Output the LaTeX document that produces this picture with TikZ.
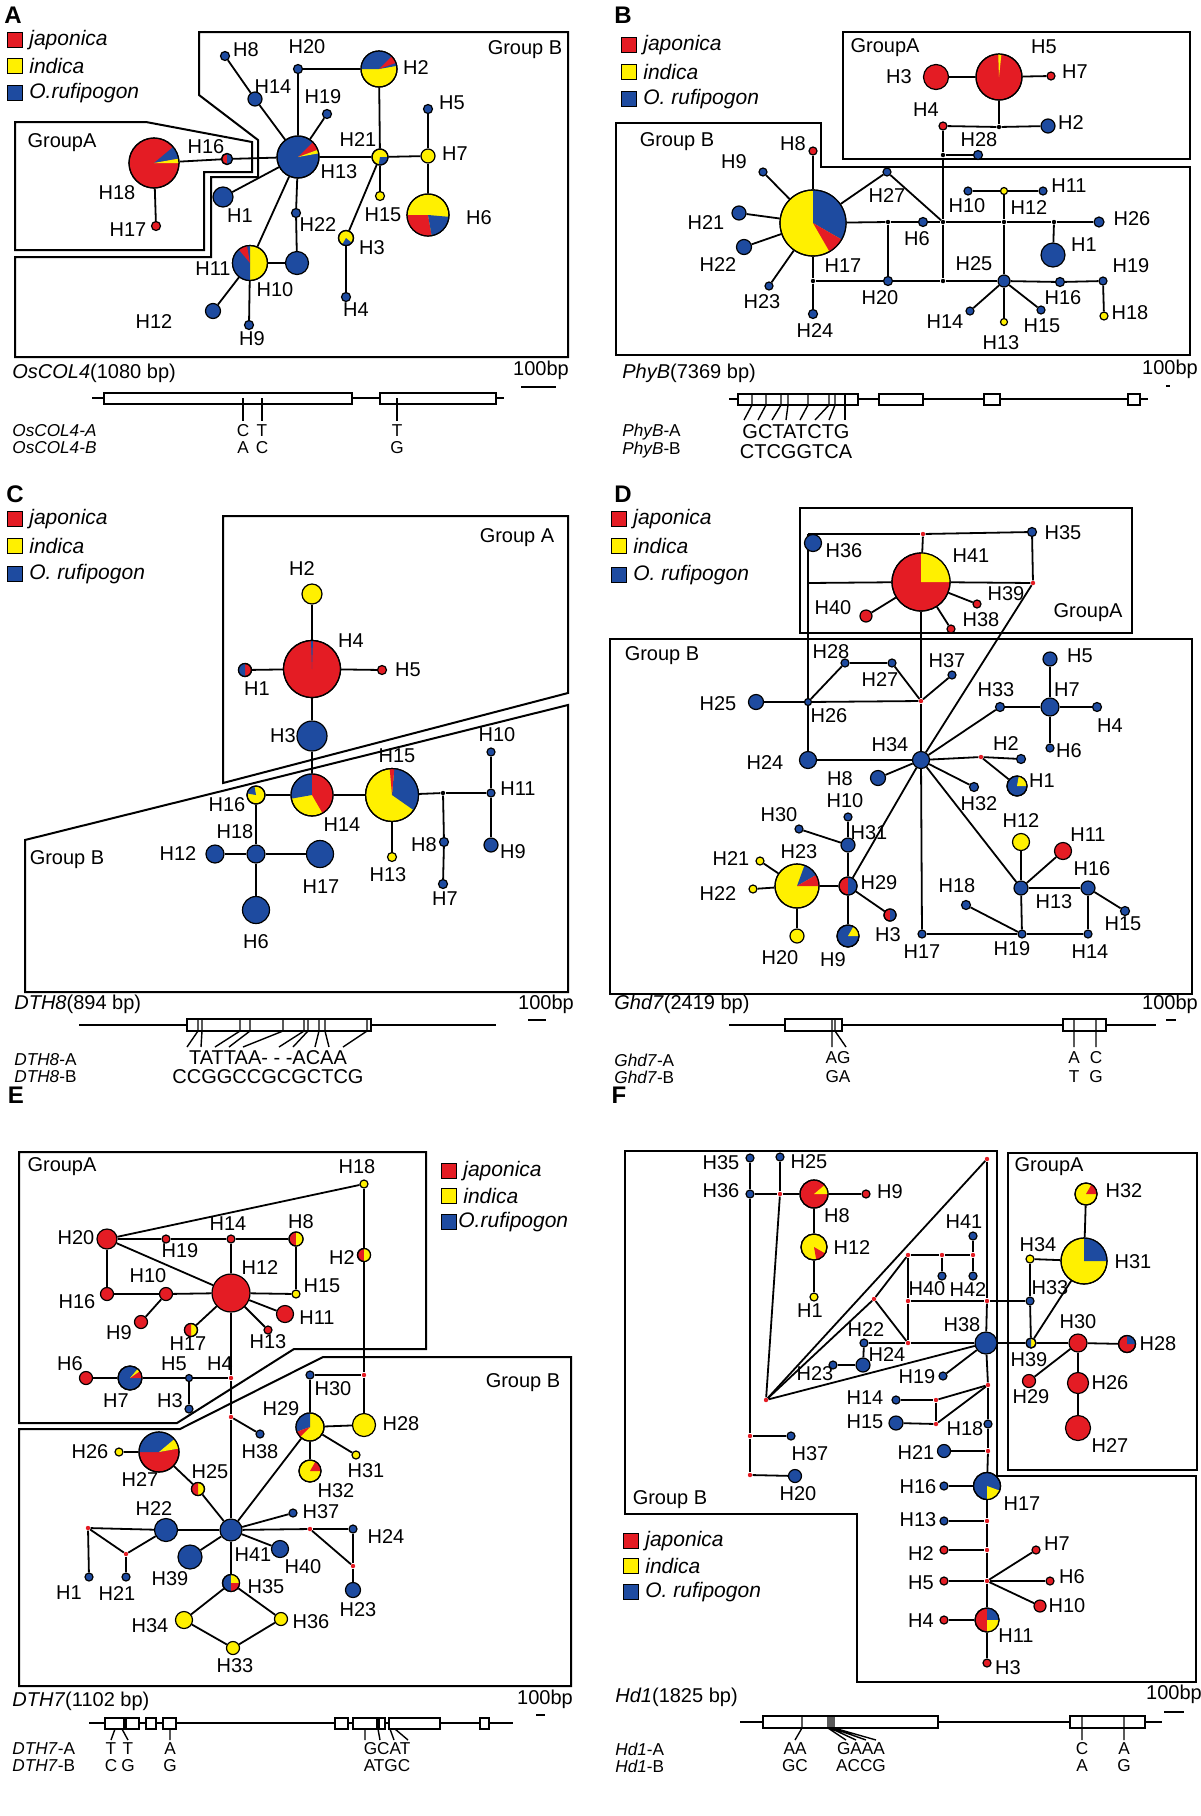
\documentclass[tikz,border=0pt]{standalone}
\usepackage{fontspec}
\setmainfont{Liberation Sans}
\pgfdeclarelayer{back}\pgfdeclarelayer{bg}\pgfsetlayers{back,bg,main}
\definecolor{jr}{RGB}{228,28,36}
\definecolor{jy}{RGB}{255,240,0}
\definecolor{jb}{RGB}{30,75,160}
\tikzset{hap/.style={circle,draw,line width=0.6pt,inner sep=0pt},
 vxs/.style={circle,fill=jr,inner sep=0pt,minimum size=2.2pt},
 jd/.style={circle,fill=black,inner sep=0pt,minimum size=2.2pt},
 lab/.style={font=\fontsize{10}{11}\selectfont,inner sep=0pt},
 gl/.style={font=\fontsize{8.6}{9}\selectfont,inner sep=0pt},
 grp/.style={line width=1pt},
 ed/.style={line width=0.9pt},
 gb/.style={line width=0.8pt,fill=white},
 pl/.style={font=\bfseries\fontsize{12}{13}\selectfont,inner sep=0pt}}
\newcount\lbc
\newcommand\lb[3]{\global\advance\lbc by 1\relax\node[lab] (lbl\the\lbc) at (#1,#2) {#3};}
\newcommand\lw[3]{\global\advance\lbc by 1\relax\node[lab,anchor=west] (lbl\the\lbc) at (#1,#2) {#3};}
\newcommand\gw[3]{\global\advance\lbc by 1\relax\node[gl,anchor=west] (lbl\the\lbc) at (#1,#2) {#3};}
\newcommand\gc[3]{\global\advance\lbc by 1\relax\node[gl] (lbl\the\lbc) at (#1,#2) {#3};}
\newcommand\hn[5]{\node[hap,minimum size=#4*0.5pt,fill=#5] (#1) at (#2,#3) {};}
\newcommand\hp[6]{\hn{#1}{#2}{#3}{#4}{#5}\foreach \a/\b/\c in {#6}{\fill[\c] (#1.center) -- +(\a:#4*0.25pt) arc[start angle=\a,end angle=\b,radius=#4*0.25pt] -- cycle;}\draw[line width=0.6pt] (#1.center) circle[radius=#4*0.25pt];}
\newcommand\vx[3]{\node[vxs] (#1) at (#2,#3) {};}
\newcommand\jn[3]{\node[jd] (#1) at (#2,#3) {};}
\newcommand\legi[5]{\node[draw,fill=#4,minimum size=7.5pt,inner sep=0pt,line width=0.6pt] (#1) at (#2,#3) {};\node[lab,anchor=west,font=\itshape\fontsize{10.5}{12}\selectfont] (#1t) at (#2+14,#3) {#5};}
\newcommand\edges[1]{\begin{pgfonlayer}{bg}\foreach \u/\v in {#1}{\draw[ed] (\u) -- (\v);}\end{pgfonlayer}}
\begin{document}
\begin{tikzpicture}[x=0.5pt,y=-0.5pt]
\begin{pgfonlayer}{back}\fill[white] (0,0) rectangle (1200,1816);\end{pgfonlayer}
\useasboundingbox (0,0) rectangle (1200,1816);
%%%%%%%%%%%%%%%% A
\node[pl] (pA) at (13,15) {A};
\legi{aL1}{15}{40}{jr}{japonica}\legi{aL2}{15}{66}{jy}{indica}\legi{aL3}{15}{93}{jb}{O.rufipogon}
\draw[grp] (199,32)--(568,32)--(568,357)--(15,357)--(15,257)--(211,257)--(211,177)--(258,177)--(258,140)--(199,95)--cycle;
\draw[grp] (15,122)--(146,122)--(252,142)--(252,172)--(204,172)--(204,250)--(15,250)--cycle;
\lb{525}{50}{Group B}\lb{62}{143}{GroupA}
\hp{aH13}{298}{157}{42}{jb}{20/45/jr,10/20/jy}
\hp{aH18}{154}{163}{50}{jr}{10/40/jb,0/10/jy}
\hp{aH16}{227}{159}{11}{jr}{-90/90/jb}
\hn{aH17}{156}{226}{9}{jr}
\hn{aH1}{223}{197}{20}{jb}
\hn{aH8}{225}{56}{9}{jb}
\hn{aH14}{255}{99}{14}{jb}
\hn{aH20}{298}{69}{9}{jb}
\hp{aH2}{379}{69}{36}{jy}{10/180/jb,20/45/jr}
\hn{aH19}{327}{114}{9}{jb}
\hp{aH21}{380}{157}{16}{jy}{-100/0/jb}
\hn{aH7}{428}{156}{14}{jy}
\hn{aH5}{428}{109}{9}{jb}
\hn{aH15}{380}{196}{9}{jy}
\hp{aH6}{428}{215}{42}{jy}{180/280/jr,280/355/jb}
\hn{aH22}{296}{213}{9}{jb}
\hp{aH3}{346}{238}{15}{jy}{240/320/jb}
\hn{aH4}{346}{297}{9}{jb}
\hp{aH11}{250}{263}{35}{jy}{90/270/jb,100/130/jr}
\hn{aH10}{297}{263}{23}{jb}
\hn{aH12}{213}{311}{15}{jb}
\hn{aH9}{249}{325}{9}{jb}
\edges{aH8/aH14,aH14/aH13,aH13/aH20,aH20/aH2,aH2/aH21,aH13/aH19,aH13/aH21,aH21/aH7,aH7/aH5,aH7/aH6,aH21/aH15,aH21/aH3,aH3/aH4,aH13/aH22,aH22/aH10,aH13/aH11,aH11/aH10,aH11/aH12,aH11/aH9,aH13/aH16,aH16/aH18,aH18/aH17,aH13/aH1}
\lb{246}{50}{H8}\lb{307}{47}{H20}\lb{416}{68}{H2}\lb{273}{87}{H14}\lb{323}{97}{H19}\lb{452}{103}{H5}\lb{358}{140}{H21}\lb{455}{154}{H7}\lb{206}{147}{H16}\lb{339}{172}{H13}\lb{117}{193}{H18}\lb{240}{216}{H1}\lb{383}{215}{H15}\lb{479}{218}{H6}\lb{318}{225}{H22}\lb{128}{230}{H17}\lb{372}{248}{H3}\lb{213}{269}{H11}\lb{275}{290}{H10}\lb{356}{310}{H4}\lb{154}{322}{H12}\lb{252}{339}{H9}
\lw{12}{373}{\textit{OsCOL4}(1080 bp)}\lb{541}{370}{100bp}
\draw[line width=1.2pt] (521,387)--(556,387);
\draw[ed] (92,398)--(504,398);
\draw[gb] (104,393) rectangle (352,404);\draw[gb] (380,393) rectangle (496,404);
\draw[ed] (243,398)--(243,421) (262,398)--(262,421) (397,398)--(397,421);
\gw{12}{431}{\textit{OsCOL4-A}}\gw{12}{448}{\textit{OsCOL4-B}}
\gc{243}{431}{C}\gc{262}{431}{T}\gc{397}{431}{T}\gc{243}{448}{A}\gc{262}{448}{C}\gc{397}{448}{G}
%%%%%%%%%%%%%%%% B
\node[pl] (pB) at (623,15) {B};
\legi{bL1}{629}{45}{jr}{japonica}\legi{bL2}{629}{72}{jy}{indica}\legi{bL3}{629}{99}{jb}{O. rufipogon}
\draw[grp] (843,32) rectangle (1190,159);
\draw[grp] (616,123)--(821,123)--(821,167)--(1190,167)--(1190,355)--(616,355)--cycle;
\lb{885}{48}{GroupA}\lb{677}{142}{Group B}
\hp{bH5}{999}{77}{46}{jr}{84/92/jy}
\hn{bH3}{936}{77}{25}{jr}
\hn{bH7}{1051}{76}{8}{jr}
\jn{bj28}{999}{127}
\hn{bH2}{1048}{126}{14}{jb}
\hn{bH4}{943}{126}{8}{jr}
\jn{bj1}{943}{155}
\hn{bH28}{978}{155}{9}{jb}
\hp{bH17}{813}{223}{66}{jy}{-30/90/jb,-60/-30/jr}
\hn{bH8}{813}{151}{8}{jr}
\hn{bH9}{763}{172}{8}{jb}
\hn{bH21}{739}{213}{14}{jb}
\hn{bH22}{744}{247}{15}{jb}
\hn{bH23}{769}{286}{8}{jb}
\hn{bH24}{813}{314}{9}{jb}
\jn{bjB1}{813}{281}\jn{bjB2}{888}{222}\jn{bjB3}{943}{222}\jn{bjB4}{943}{281}\jn{bjB5}{1004}{222}\jn{bjB6}{1054}{222}
\hn{bH20}{888}{281}{9}{jb}
\hn{bH6}{923}{222}{9}{jb}
\hn{bH27}{887}{172}{8}{jb}
\hn{bH10}{968}{191}{8}{jb}\hn{bH12}{1004}{191}{7}{jy}\hn{bH11}{1043}{191}{8}{jb}
\hn{bH26}{1099}{222}{10}{jb}
\hn{bH1}{1053}{255}{24}{jb}
\hn{bH25}{1004}{281}{12}{jb}
\hn{bH16}{1060}{282}{9}{jb}\hn{bH19}{1103}{281}{8}{jb}
\hn{bH18}{1104}{316}{8}{jy}
\hn{bH14}{970}{311}{8}{jb}\hn{bH13}{1004}{322}{7}{jy}\hn{bH15}{1041}{310}{8}{jb}
\edges{bH3/bH5,bH5/bH7,bH5/bj28,bH4/bj28,bj28/bH2,bH4/bj1,bj1/bjB3,bjB3/bjB4,bj1/bH28,bH17/bH8,bH17/bH9,bH17/bH21,bH17/bH22,bH17/bH23,bH17/bjB1,bjB1/bH24,bH17/bH27,bH27/bjB3,bH17/bjB2,bjB2/bH6,bH6/bjB3,bjB2/bH20,bjB1/bH20,bH20/bjB4,bjB4/bH25,bH25/bH16,bH16/bH19,bjB3/bjB5,bjB5/bjB6,bjB6/bH26,bjB6/bH1,bH10/bH12,bH12/bH11,bH12/bjB5,bjB5/bH25,bH25/bH14,bH25/bH13,bH25/bH15,bH19/bH18}
\lb{1044}{47}{H5}\lb{899}{77}{H3}\lb{1075}{72}{H7}\lb{926}{110}{H4}\lb{1071}{123}{H2}\lb{979}{140}{H28}\lb{793}{144}{H8}\lb{734}{162}{H9}\lb{887}{196}{H27}\lb{967}{206}{H10}\lb{1029}{208}{H12}\lb{1069}{186}{H11}\lb{1132}{219}{H26}\lb{706}{223}{H21}\lb{917}{239}{H6}\lb{1084}{245}{H1}\lb{718}{265}{H22}\lb{843}{266}{H17}\lb{974}{264}{H25}\lb{1131}{266}{H19}\lb{762}{302}{H23}\lb{880}{298}{H20}\lb{1063}{298}{H16}\lb{945}{322}{H14}\lb{1130}{313}{H18}\lb{1042}{326}{H15}\lb{1001}{343}{H13}\lb{815}{331}{H24}
\lw{622}{373}{\textit{PhyB}(7369 bp)}\lb{1170}{369}{100bp}
\draw[line width=1.2pt] (1166,386)--(1170,386);
\draw[ed] (729,399)--(1148,399);
\draw[gb] (738,394) rectangle (858,405);\draw[gb] (879,394) rectangle (923,405);\draw[gb] (984,394) rectangle (1000,405);\draw[gb] (1128,394) rectangle (1140,405);
\foreach \p/\q in {752/744,766/758,781/772,788/786,808/800,829/815,835/829,845/845}{\draw[line width=0.7pt] (\p,394)--(\p,405)--(\q,420);}
\gw{622}{432}{\textit{PhyB}-A}\gw{622}{450}{\textit{PhyB}-B}
\node[gl,font=\fontsize{10}{11}\selectfont] (bga) at (796,432) {GCTATCTG};\node[gl,font=\fontsize{10}{11}\selectfont] (bgb) at (796,452) {CTCGGTCA};
%%%%%%%%%%%%%%%% C
\node[pl] (pC) at (15,494) {C};
\legi{cL1}{15}{519}{jr}{japonica}\legi{cL2}{15}{546}{jy}{indica}\legi{cL3}{15}{574}{jb}{O. rufipogon}
\draw[grp] (223,516)--(568,516)--(568,693)--(223,783)--cycle;
\draw[grp] (25,840)--(568,705)--(568,992)--(25,992)--cycle;
\lb{517}{538}{Group A}\lb{67}{860}{Group B}
\hn{cH2}{312}{594}{20}{jy}
\hp{cH4}{312}{669}{57}{jr}{88/92/jb}
\hp{cH1}{245}{670}{13}{jr}{90/270/jb}
\hn{cH5}{382}{670}{9}{jr}
\hn{cH3}{312}{736}{30}{jb}
\hp{cH14}{312}{795}{42}{jy}{90/190/jb,-60/90/jr}
\hp{cH15}{392}{795}{53}{jy}{-35/85/jb,85/95/jr}
\hp{cH16}{256}{795}{18}{jy}{100/170/jb}
\hn{cH18}{256}{854}{18}{jb}
\hn{cH12}{215}{854}{18}{jb}
\hn{cH17}{320}{854}{27}{jb}
\hn{cH6}{256}{910}{27}{jb}
\hn{cH13}{392}{857}{9}{jy}
\jn{cjC}{443}{793}
\hn{cH8}{444}{842}{9}{jb}\hn{cH7}{443}{884}{9}{jb}
\hn{cH11}{491}{793}{8}{jb}\hn{cH10}{491}{752}{8}{jb}\hn{cH9}{491}{845}{14}{jb}
\edges{cH2/cH4,cH1/cH4,cH4/cH5,cH4/cH3,cH3/cH14,cH16/cH14,cH14/cH15,cH15/cjC,cjC/cH11,cjC/cH8,cH8/cH7,cH10/cH11,cH11/cH9,cH15/cH13,cH16/cH18,cH18/cH6,cH12/cH18,cH18/cH17}
\lb{302}{569}{H2}\lb{351}{641}{H4}\lb{257}{689}{H1}\lb{408}{670}{H5}\lb{283}{736}{H3}\lb{397}{756}{H15}\lb{497}{735}{H10}\lb{518}{789}{H11}\lb{227}{805}{H16}\lb{342}{825}{H14}\lb{235}{832}{H18}\lb{178}{854}{H12}\lb{424}{845}{H8}\lb{513}{852}{H9}\lb{321}{887}{H17}\lb{388}{875}{H13}\lb{445}{899}{H7}\lb{256}{942}{H6}
\lw{14}{1004}{\textit{DTH8}(894 bp)}\lb{546}{1004}{100bp}
\draw[line width=1.2pt] (528,1020)--(546,1020);
\draw[ed] (79,1025)--(496,1025);
\draw[gb] (187,1019) rectangle (371,1031);
\foreach \p/\q in {198/187,202/201,240/215,250/229,283/243,304/279,308/293,319/315,325/329,367/343}{\draw[line width=0.7pt] (\p,1019)--(\p,1031)--(\q,1047);}
\gw{14}{1060}{\textit{DTH8}-A}\gw{14}{1077}{\textit{DTH8}-B}
\node[gl,font=\fontsize{10}{11}\selectfont] (cga) at (268,1058) {TATTAA- - -ACAA};\node[gl,font=\fontsize{10}{11}\selectfont] (cgb) at (268,1077) {CCGGCCGCGCTCG};
%%%%%%%%%%%%%%%% D
\node[pl] (pD) at (623,494) {D};
\legi{dL1}{619}{519}{jr}{japonica}\legi{dL2}{619}{546}{jy}{indica}\legi{dL3}{619}{575}{jb}{O. rufipogon}
\draw[grp] (800,508) rectangle (1132,633);
\draw[grp] (610,639) rectangle (1192,994);
\lb{1088}{613}{GroupA}\lb{662}{656}{Group B}
\coordinate (dTL) at (808,534);\coordinate (dML) at (808,583);
\vx{dJ1}{923}{534}\vx{dJ2}{1033}{583}\vx{dJ3}{921}{701}\vx{dJ4}{981}{757}
\hn{dH36}{813}{543}{17}{jb}
\hn{dH35}{1032}{532}{9}{jb}
\hp{dH41}{921}{582}{58}{jr}{0/90/jy}
\hn{dH40}{866}{616}{12}{jr}
\hn{dH39}{977}{604}{8}{jr}
\hn{dH38}{951}{629}{8}{jr}
\hn{dH28}{845}{663}{8}{jb}\hn{dH27}{892}{663}{8}{jb}\hn{dH37}{952}{675}{8}{jb}
\hn{dH26}{808}{702}{7}{jb}\hn{dH25}{756}{702}{15}{jb}
\hn{dH24}{808}{760}{17}{jb}\hn{dH34}{921}{760}{17}{jb}\hn{dH8}{878}{778}{15}{jb}
\hn{dH33}{1000}{707}{9}{jb}\hn{dH7}{1050}{707}{18}{jb}\hn{dH5}{1050}{659}{14}{jb}\hn{dH4}{1097}{707}{9}{jb}\hn{dH6}{1050}{748}{8}{jb}
\hn{dH2}{1021}{759}{9}{jb}
\hp{dH1}{1017}{786}{20}{jb}{0/80/jy}
\hn{dH32}{974}{787}{9}{jb}
\hn{dH12}{1021}{842}{17}{jy}\hn{dH11}{1063}{851}{17}{jr}
\hn{dH13}{1021}{888}{14}{jb}\hn{dH16}{1088}{888}{14}{jb}\hn{dH15}{1125}{911}{9}{jb}
\hn{dH18}{966}{905}{9}{jb}\hn{dH19}{1022}{934}{8}{jb}\hn{dH14}{1088}{934}{8}{jb}\hn{dH17}{922}{934}{8}{jb}
\hn{dH10}{848}{817}{8}{jb}\hn{dH30}{799}{829}{8}{jb}\hn{dH31}{848}{845}{14}{jb}
\hp{dH29}{848}{886}{18}{jr}{-90/90/jb}
\hp{dH23}{797}{886}{44}{jy}{30/70/jb,0/30/jr}
\hn{dH21}{760}{861}{8}{jy}\hn{dH22}{753}{889}{8}{jy}\hn{dH20}{797}{936}{14}{jy}
\hp{dH9}{848}{936}{22}{jb}{0/60/jy}
\hp{dH3}{890}{915}{12}{jr}{-90/90/jb}
\edges{dTL/dJ1,dJ1/dH35,dH35/dJ2,dML/dH41,dH41/dJ2,dTL/dML,dML/dH26,dH26/dH24,dJ1/dH41,dH41/dJ3,dJ3/dH34,dH41/dH40,dH41/dH39,dH41/dH38,dJ2/dH34,dH26/dH25,dH26/dH28,dH28/dH27,dH27/dJ3,dJ3/dH37,dH26/dJ3,dH24/dH34,dH34/dH33,dH33/dH7,dH7/dH5,dH7/dH4,dH7/dH6,dH34/dJ4,dJ4/dH2,dJ4/dH1,dH34/dH8,dH34/dH32,dH34/dH13,dH34/dH29,dH34/dH17,dH17/dH19,dH19/dH14,dH19/dH18,dH19/dH13,dH13/dH12,dH13/dH11,dH13/dH16,dH16/dH14,dH16/dH15,dH29/dH31,dH31/dH10,dH31/dH30,dH23/dH29,dH29/dH9,dH29/dH3,dH23/dH21,dH23/dH22,dH23/dH20}
\lb{844}{551}{H36}\lb{1063}{533}{H35}\lb{971}{556}{H41}\lb{1006}{594}{H39}\lb{833}{608}{H40}\lb{981}{620}{H38}\lb{831}{652}{H28}\lb{880}{680}{H27}\lb{947}{661}{H37}\lb{996}{690}{H33}\lb{1080}{656}{H5}\lb{1067}{690}{H7}\lb{718}{704}{H25}\lb{829}{716}{H26}\lb{1110}{726}{H4}\lb{890}{745}{H34}\lb{1006}{744}{H2}\lb{1069}{751}{H6}\lb{765}{763}{H24}\lb{840}{779}{H8}\lb{1042}{781}{H1}\lb{979}{804}{H32}\lb{845}{801}{H10}\lb{779}{815}{H30}\lb{1021}{821}{H12}\lb{1088}{835}{H11}\lb{869}{833}{H31}\lb{731}{859}{H21}\lb{799}{852}{H23}\lb{1092}{869}{H16}\lb{879}{883}{H29}\lb{718}{894}{H22}\lb{957}{886}{H18}\lb{1054}{902}{H13}\lb{1123}{924}{H15}\lb{888}{935}{H3}\lb{780}{958}{H20}\lb{833}{960}{H9}\lb{922}{952}{H17}\lb{1012}{949}{H19}\lb{1090}{952}{H14}
\lw{614}{1004}{\textit{Ghd7}(2419 bp)}\lb{1170}{1004}{100bp}
\draw[line width=1.2pt] (1166,1020)--(1176,1020);
\draw[ed] (729,1025)--(1156,1025);
\draw[gb] (785,1019) rectangle (842,1031);\draw[gb] (1063,1019) rectangle (1106,1031);
\draw[line width=0.7pt] (832,1019)--(832,1047) (835,1019)--(835,1031)--(846,1047) (1074,1019)--(1074,1047) (1096,1019)--(1096,1047);
\gw{614}{1060}{\textit{Ghd7}-A}\gw{614}{1077}{\textit{Ghd7}-B}
\gc{838}{1058}{AG}\gc{838}{1077}{GA}\gc{1074}{1058}{A}\gc{1074}{1077}{T}\gc{1096}{1058}{C}\gc{1096}{1077}{G}
%%%%%%%%%%%%%%%% E
\node[pl] (pE) at (16,1095) {E};
\legi{eL1}{449}{1171}{jr}{japonica}\legi{eL2}{449}{1196}{jy}{indica}
\node[draw,fill=jb,minimum size=7.5pt,inner sep=0pt,line width=0.6pt] (eL3) at (449,1222) {};\node[lab,anchor=west,font=\itshape\fontsize{10.5}{12}\selectfont] (eL3t) at (458,1222) {O.rufipogon};
\draw[grp] (19,1152)--(426,1152)--(426,1349)--(294,1349)--(177,1423)--(19,1423)--cycle;
\draw[grp] (19,1429)--(180,1429)--(323,1357)--(571,1357)--(571,1686)--(19,1686)--cycle;
\lb{62}{1167}{GroupA}\lb{523}{1383}{Group B}
\hn{eH18}{364}{1184}{8}{jy}
\hn{eH20}{107}{1239}{20}{jr}\hn{eH19}{166}{1239}{8}{jr}\hn{eH14}{231}{1239}{8}{jr}
\hp{eH8}{296}{1239}{14}{jr}{-90/90/jy}
\hp{eH2}{364}{1255}{13}{jr}{-90/90/jy}
\hn{eH12}{231}{1293}{38}{jr}
\hn{eH15}{296}{1294}{8}{jy}
\hn{eH10}{166}{1294}{13}{jr}\hn{eH16}{107}{1294}{13}{jr}\hn{eH9}{141}{1322}{13}{jr}
\hp{eH17}{191}{1330}{13}{jy}{90/270/jr}
\hn{eH13}{268}{1330}{8}{jr}\hn{eH11}{285}{1314}{17}{jr}
\hn{eH6}{86}{1378}{13}{jr}
\hp{eH7}{130}{1378}{24}{jb}{0/35/jr,35/50/jy}
\hn{eH5}{189}{1378}{7}{jb}\vx{eH4}{231}{1378}\hn{eH3}{189}{1409}{8}{jb}
\vx{eJ1}{231}{1417}\hn{eH38}{260}{1434}{8}{jb}
\vx{eJ2}{364}{1375}\hn{eH30}{310}{1375}{8}{jb}
\hp{eH29}{310}{1427}{28}{jy}{90/200/jb,200/225/jr}
\hn{eH28}{364}{1425}{23}{jy}\hn{eH31}{356}{1455}{8}{jy}
\hp{eH32}{310}{1471}{22}{jy}{0/60/jr}
\hn{eH26}{119}{1452}{8}{jy}
\hp{eH27}{159}{1452}{40}{jr}{10/180/jb,10/40/jy}
\hp{eH25}{198}{1489}{13}{jy}{90/270/jr}
\hn{eH22}{166}{1530}{23}{jb}\hn{eH41}{231}{1530}{22}{jb}\hn{eH37}{293}{1513}{8}{jb}
\vx{eJ3}{310}{1529}\hn{eH24}{353}{1529}{8}{jb}\vx{eJ4}{353}{1566}\hn{eH23}{353}{1590}{15}{jb}
\hn{eH40}{280}{1549}{17}{jb}\hn{eH39}{190}{1557}{24}{jb}
\hp{eH35}{231}{1583}{17}{jb}{0/90/jy,-90/0/jr}
\hn{eH34}{184}{1620}{17}{jy}\hn{eH36}{281}{1619}{13}{jy}\hn{eH33}{233}{1648}{13}{jy}
\vx{eJ5}{88}{1528}\vx{eJ6}{126}{1554}
\hn{eH1}{89}{1577}{8}{jb}\hn{eH21}{126}{1577}{8}{jb}
\edges{eH18/eH20,eH18/eH2,eH2/eJ2,eJ2/eH28,eH20/eH19,eH19/eH14,eH14/eH8,eH20/eH12,eH20/eH16,eH16/eH10,eH10/eH12,eH10/eH9,eH14/eH12,eH8/eH15,eH15/eH12,eH12/eH11,eH12/eH13,eH12/eH17,eH12/eH4,eH4/eJ1,eJ1/eH41,eH6/eH7,eH7/eH5,eH5/eH4,eH5/eH3,eJ1/eH38,eH30/eJ2,eH30/eH29,eH29/eH28,eH29/eH31,eH29/eH32,eH29/eH41,eH26/eH27,eH27/eH25,eH25/eH41,eH41/eH22,eH22/eJ5,eJ5/eH1,eJ5/eJ6,eJ6/eH22,eJ6/eH21,eH41/eH39,eH41/eH40,eH41/eH37,eH41/eJ3,eJ3/eH24,eJ3/eJ4,eH24/eJ4,eJ4/eH23,eH41/eH35,eH35/eH34,eH35/eH36,eH34/eH33,eH36/eH33}
\lb{357}{1167}{H18}\lb{76}{1238}{H20}\lb{228}{1224}{H14}\lb{301}{1222}{H8}\lb{180}{1251}{H19}\lb{342}{1258}{H2}\lb{260}{1267}{H12}\lb{148}{1276}{H10}\lb{322}{1286}{H15}\lb{77}{1302}{H16}\lb{317}{1318}{H11}\lb{119}{1333}{H9}\lb{188}{1344}{H17}\lb{268}{1342}{H13}\lb{70}{1364}{H6}\lb{174}{1364}{H5}\lb{220}{1364}{H4}\lb{116}{1401}{H7}\lb{170}{1401}{H3}\lb{333}{1389}{H30}\lb{281}{1409}{H29}\lb{401}{1424}{H28}\lb{90}{1452}{H26}\lb{260}{1452}{H38}\lb{140}{1479}{H27}\lb{366}{1471}{H31}\lb{210}{1472}{H25}\lb{336}{1491}{H32}\lb{154}{1508}{H22}\lb{321}{1512}{H37}\lb{386}{1536}{H24}\lb{253}{1555}{H41}\lb{303}{1567}{H40}\lb{170}{1579}{H39}\lb{266}{1587}{H35}\lb{69}{1593}{H1}\lb{117}{1593}{H21}\lb{358}{1610}{H23}\lb{150}{1626}{H34}\lb{311}{1622}{H36}\lb{235}{1666}{H33}
\lw{12}{1701}{\textit{DTH7}(1102 bp)}\lb{545}{1699}{100bp}
\draw[line width=1.2pt] (536,1715)--(545,1715);
\draw[ed] (89,1723)--(513,1723);
\foreach \p/\q in {105/124,126/139,146/156,163/176,335/348,353/377,379/385,389/440,480/489}{\draw[gb] (\p,1718) rectangle (\q,1729);}
\draw[line width=0.7pt] (115,1729)--(111,1740) (122,1729)--(128,1740) (170,1729)--(170,1740) (365,1729)--(365,1740) (378,1729)--(380,1740) (390,1729)--(394,1740) (395,1729)--(408,1740);
\gw{12}{1749}{\textit{DTH7}-A}\gw{12}{1766}{\textit{DTH7}-B}
\gc{111}{1749}{T}\gc{128}{1749}{T}\gc{170}{1749}{A}\gc{387}{1749}{GCAT}
\gc{111}{1766}{C}\gc{128}{1766}{G}\gc{170}{1766}{G}\gc{387}{1766}{ATGC}
%%%%%%%%%%%%%%%% F
\node[pl] (pF) at (619,1095) {F};
\draw[grp] (625,1151)--(997,1151)--(997,1476)--(1196,1476)--(1196,1682)--(857,1682)--(857,1514)--(625,1514)--cycle;
\draw[grp] (1008,1153) rectangle (1197,1470);
\lb{1049}{1167}{GroupA}\lb{670}{1500}{Group B}
\legi{fL1}{631}{1541}{jr}{japonica}\legi{fL2}{631}{1566}{jy}{indica}\legi{fL3}{631}{1592}{jb}{O. rufipogon}
\hn{fH35}{750}{1158}{8}{jb}\hn{fH25}{780}{1157}{8}{jb}\hn{fH36}{750}{1194}{8}{jb}
\vx{fJ1}{780}{1194}
\hp{fH8}{814}{1194}{28}{jr}{0/40/jy}
\hn{fH9}{866}{1194}{8}{jr}
\hp{fH12}{814}{1247}{26}{jy}{280/330/jr}
\hn{fH1}{814}{1297}{8}{jy}
\vx{fJT}{987}{1159}\vx{fJL}{766}{1400}
\vx{fJ2}{908}{1255}\vx{fJ3}{942}{1255}\vx{fJ4}{973}{1255}
\hn{fH41}{973}{1236}{8}{jb}\hn{fH40}{942}{1276}{8}{jb}\hn{fH42}{973}{1276}{8}{jb}
\vx{fJ5}{874}{1299}\vx{fJ6}{908}{1301}\vx{fJ7}{987}{1301}
\hn{fH33}{1030}{1301}{8}{jb}\hn{fH34}{1030}{1259}{8}{jy}
\hp{fH31}{1084}{1261}{46}{jy}{0/90/jb}
\hp{fH32}{1086}{1194}{22}{jy}{0/60/jr}
\hn{fH38}{986}{1343}{22}{jb}
\vx{fJ8}{908}{1343}
\hn{fH22}{864}{1343}{8}{jb}\hn{fH24}{863}{1365}{14}{jb}\hn{fH23}{833}{1365}{8}{jb}
\hp{fH39}{1031}{1343}{10}{jy}{90/270/jb}
\hn{fH30}{1078}{1343}{18}{jr}
\hp{fH28}{1127}{1344}{17}{jr}{0/90/jb}
\hn{fH29}{1029}{1381}{13}{jr}\hn{fH26}{1078}{1383}{21}{jr}\hn{fH27}{1078}{1428}{25}{jr}
\hn{fH19}{943}{1376}{8}{jb}
\vx{fJ9}{988}{1385}
\hn{fH14}{896}{1400}{8}{jb}\vx{fJ10}{936}{1400}
\hn{fH15}{896}{1423}{14}{jb}\vx{fJ11}{936}{1424}
\hn{fH18}{988}{1424}{8}{jb}
\hn{fH21}{944}{1451}{13}{jb}\vx{fJ12}{988}{1451}
\hp{fH17}{987}{1486}{27}{jb}{270/340/jy}
\hn{fH16}{944}{1486}{8}{jb}
\hn{fH13}{944}{1521}{8}{jb}\vx{fJ13}{987}{1521}
\hn{fH2}{944}{1550}{8}{jr}\vx{fJ14}{987}{1550}
\hn{fH5}{944}{1581}{8}{jr}\vx{fJ15}{987}{1581}
\hn{fH7}{1036}{1550}{8}{jr}\hn{fH6}{1050}{1581}{8}{jr}\hn{fH10}{1040}{1606}{12}{jr}
\hn{fH4}{944}{1620}{8}{jr}
\hp{fH11}{987}{1620}{24}{jr}{0/90/jb,-90/0/jy}
\hn{fH3}{987}{1663}{8}{jr}
\vx{fJ16}{750}{1436}\hn{fH37}{791}{1436}{8}{jb}
\vx{fJ17}{750}{1475}\hn{fH20}{795}{1476}{13}{jb}
\edges{fH35/fH36,fH36/fJ16,fJ16/fJ17,fH25/fJ1,fJ1/fJL,fH36/fJ1,fJ1/fH8,fH8/fH9,fH8/fH12,fH12/fH1,fJL/fJT,fJL/fJ5,fJ5/fJ2,fJ5/fJ8,fJ2/fJ6,fJ6/fJ8,fJ2/fJ3,fJ3/fJ4,fJ3/fH40,fJ4/fH41,fJ4/fH42,fJ6/fJ7,fJ7/fH33,fH34/fH33,fH33/fH39,fH34/fH31,fH31/fH39,fH31/fH32,fJ8/fH22,fJ8/fH38,fH22/fH24,fH23/fH24,fJL/fH38,fH38/fH39,fH39/fH30,fH30/fH28,fH30/fH26,fH26/fH27,fH30/fH29,fH38/fH19,fJT/fJ7,fJ7/fH38,fH38/fJ9,fJ9/fH18,fH18/fJ12,fJ12/fH17,fH17/fJ13,fJ13/fJ14,fJ14/fJ15,fJ15/fH11,fH11/fH3,fH14/fJ10,fJ10/fJ9,fH15/fJ11,fJ10/fJ11,fJ11/fJ9,fH21/fJ12,fH16/fH17,fH13/fJ13,fH2/fJ14,fH5/fJ15,fJ15/fH7,fJ15/fH6,fJ15/fH10,fH4/fH11,fJ16/fH37,fJ17/fH20}
\lb{721}{1163}{H35}\lb{809}{1162}{H25}\lb{721}{1191}{H36}\lb{890}{1192}{H9}\lb{837}{1216}{H8}\lb{852}{1248}{H12}\lb{964}{1222}{H41}\lb{1038}{1245}{H34}\lb{1133}{1262}{H31}\lb{1124}{1191}{H32}\lb{927}{1289}{H40}\lb{968}{1289}{H42}\lb{1050}{1288}{H33}\lb{810}{1311}{H1}\lb{962}{1325}{H38}\lb{1078}{1322}{H30}\lb{866}{1330}{H22}\lb{887}{1354}{H24}\lb{1158}{1344}{H28}\lb{1029}{1360}{H39}\lb{815}{1374}{H23}\lb{917}{1377}{H19}\lb{1110}{1383}{H26}\lb{1031}{1397}{H29}\lb{865}{1398}{H14}\lb{865}{1422}{H15}\lb{965}{1429}{H18}\lb{1110}{1445}{H27}\lb{916}{1452}{H21}\lb{810}{1454}{H37}\lb{918}{1487}{H16}\lb{798}{1494}{H20}\lb{1022}{1504}{H17}\lb{918}{1520}{H13}\lb{1057}{1544}{H7}\lb{921}{1553}{H2}\lb{1072}{1577}{H6}\lb{921}{1583}{H5}\lb{1067}{1606}{H10}\lb{921}{1621}{H4}\lb{1016}{1636}{H11}\lb{1008}{1668}{H3}
\lw{615}{1697}{\textit{Hd1}(1825 bp)}\lb{1174}{1694}{100bp}
\draw[line width=1.2pt] (1164,1712)--(1184,1712);
\draw[ed] (740,1722)--(1162,1722);
\draw[gb] (763,1716) rectangle (938,1728);\draw[gb] (1070,1716) rectangle (1145,1728);
\draw[line width=0.7pt] (802,1716)--(802,1728)--(795,1740) (828,1716)--(828,1728)--(846,1740) (830,1716)--(830,1728)--(856,1740) (832,1716)--(832,1728)--(866,1740) (834,1716)--(834,1728)--(876,1740) (1082,1716)--(1082,1740) (1124,1716)--(1124,1740);
\gw{615}{1749}{\textit{Hd1}-A}\gw{615}{1766}{\textit{Hd1}-B}
\gc{795}{1749}{AA}\gc{795}{1766}{GC}\gc{861}{1749}{GAAA}\gc{861}{1766}{ACCG}\gc{1082}{1749}{C}\gc{1082}{1766}{A}\gc{1124}{1749}{A}\gc{1124}{1766}{G}
\end{tikzpicture}
\end{document}
